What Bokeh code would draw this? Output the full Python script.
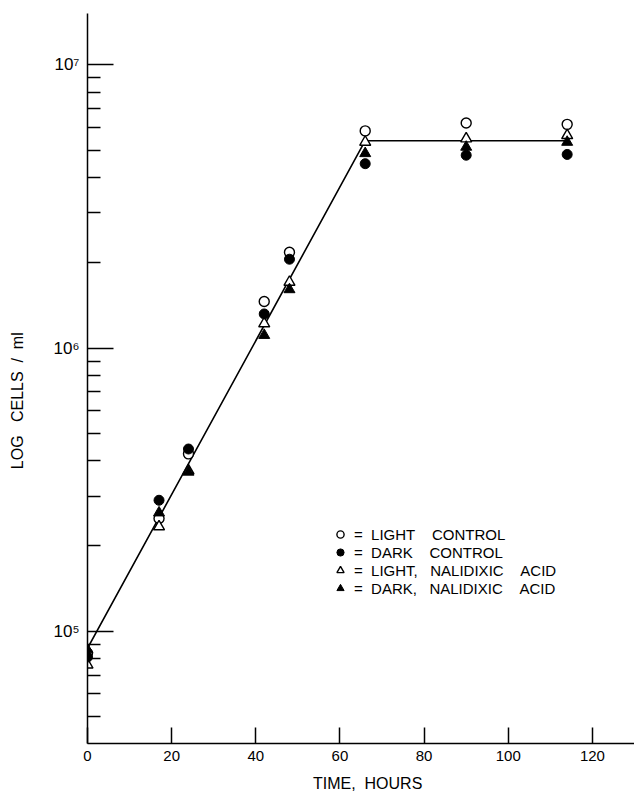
from bokeh.plotting import figure
from bokeh.models import (Range1d, FixedTicker, Legend, LegendItem)
from bokeh.embed import file_html
from bokeh.resources import INLINE

# ---- data ----
hours = [0, 17, 24, 42, 48, 66, 90, 114]
light_control = [8.35e4, 2.50e5, 4.23e5, 1.46e6, 2.18e6, 5.85e6, 6.24e6, 6.17e6]
dark_control = [8.1e4, 2.90e5, 4.40e5, 1.32e6, 2.06e6, 4.48e6, 4.80e6, 4.83e6]
light_nalidixic = [7.6e4, 2.34e5, 3.69e5, 1.22e6, 1.71e6, 5.34e6, 5.49e6, 5.64e6]
dark_nalidixic = [8.6e4, 2.62e5, 3.65e5, 1.11e6, 1.61e6, 4.87e6, 5.13e6, 5.34e6]

fit_hours = [0, 66, 114]
fit_cells = [8.7e4, 5.4e6, 5.4e6]

x_ticks = [0, 20, 40, 60, 80, 100, 120]
y_major = [1e5, 1e6, 1e7]
y_major_labels = {1e5: "10\u2075", 1e6: "10\u2076", 1e7: "10\u2077"}
y_minor = [m * 10 ** e for e in (4, 5, 6) for m in range(2, 10) if m * 10 ** e > 4.2e4]

NB = "\u00a0"
legend_labels = [
    "=" + NB * 2 + "LIGHT" + NB * 4 + "CONTROL",
    "=" + NB * 2 + "DARK" + NB * 4 + "CONTROL",
    "=" + NB * 2 + "LIGHT," + NB * 3 + "NALIDIXIC" + NB * 4 + "ACID",
    "=" + NB * 2 + "DARK," + NB * 3 + "NALIDIXIC" + NB * 4 + "ACID",
]
# trailing / leading non-breaking spaces shift the centred titles to where
# the reference has them
y_title = "LOG" + NB * 3 + "CELLS" + NB * 2 + "/" + NB * 2 + "ml" + NB * 10
x_title = NB * 3 + "TIME," + NB * 2 + "HOURS"

FONT = "Liberation Sans"

p = figure(width=634, height=794, output_backend="svg", toolbar_location=None,
           x_range=Range1d(0, 130), y_range=Range1d(4.01e4, 1.52e7),
           y_axis_type="log",
           min_border_left=87, min_border_right=0, min_border_top=13,
           min_border_bottom=50)
p.outline_line_color = None
p.grid.visible = False
p.background_fill_color = "white"
p.border_fill_color = "white"

# axes
xa = p.xaxis[0]
xa.ticker = FixedTicker(ticks=x_ticks)
xa.major_tick_in = 16
xa.major_tick_out = 0
xa.minor_tick_line_color = None
xa.axis_line_width = 1.5
xa.major_tick_line_width = 1.5
xa.major_label_text_font = FONT
xa.major_label_text_font_size = "15px"
xa.major_label_text_color = "black"
xa.major_label_standoff = 7
xa.axis_line_color = "black"
xa.major_tick_line_color = "black"
xa.axis_label = x_title
xa.axis_label_text_font = FONT
xa.axis_label_text_font_size = "16px"
xa.axis_label_text_font_style = "normal"
xa.axis_label_text_color = "black"
xa.axis_label_standoff = 11

ya = p.yaxis[0]
ya.ticker = FixedTicker(ticks=y_major, minor_ticks=y_minor)
ya.major_label_overrides = y_major_labels
ya.major_tick_in = 26
ya.major_tick_out = 0
ya.minor_tick_in = 13
ya.minor_tick_out = 0
ya.axis_line_width = 1.5
ya.major_tick_line_width = 1.5
ya.minor_tick_line_width = 1.3
ya.major_label_text_font = FONT
ya.major_label_text_font_size = "17px"
ya.major_label_text_color = "black"
ya.major_label_standoff = 8
ya.axis_line_color = "black"
ya.major_tick_line_color = "black"
ya.minor_tick_line_color = "black"
ya.axis_label = y_title
ya.axis_label_text_font = FONT
ya.axis_label_text_font_size = "16px"
ya.axis_label_text_font_style = "normal"
ya.axis_label_text_color = "black"
ya.axis_label_standoff = 25

# fitted line
p.line(fit_hours, fit_cells, line_color="black", line_width=1.6)

# markers: open first, filled on top
r_lc = p.scatter(hours, light_control, marker="circle", size=10,
                 fill_color="white", line_color="black", line_width=1.4)
r_ln = p.scatter(hours, light_nalidixic, marker="triangle", size=11,
                 fill_color="white", line_color="black", line_width=1.4)
r_dc = p.scatter(hours, dark_control, marker="circle", size=10,
                 fill_color="black", line_color="black", line_width=1)
r_dn = p.scatter(hours, dark_nalidixic, marker="triangle", size=11,
                 fill_color="black", line_color="black", line_width=1)

legend = Legend(items=[LegendItem(label=legend_labels[0], renderers=[r_lc]),
                       LegendItem(label=legend_labels[1], renderers=[r_dc]),
                       LegendItem(label=legend_labels[2], renderers=[r_ln]),
                       LegendItem(label=legend_labels[3], renderers=[r_dn])],
                location=(244, 146))
legend.glyph_width = 18
legend.glyph_height = 18
legend.label_height = 18
legend.spacing = 0
legend.padding = 0
legend.margin = 0
legend.label_standoff = 5
legend.border_line_color = None
legend.background_fill_alpha = 0
legend.label_text_font = FONT
legend.label_text_font_size = "15px"
legend.label_text_color = "black"
p.add_layout(legend)

open("out.html", "w").write(file_html(p, INLINE))
